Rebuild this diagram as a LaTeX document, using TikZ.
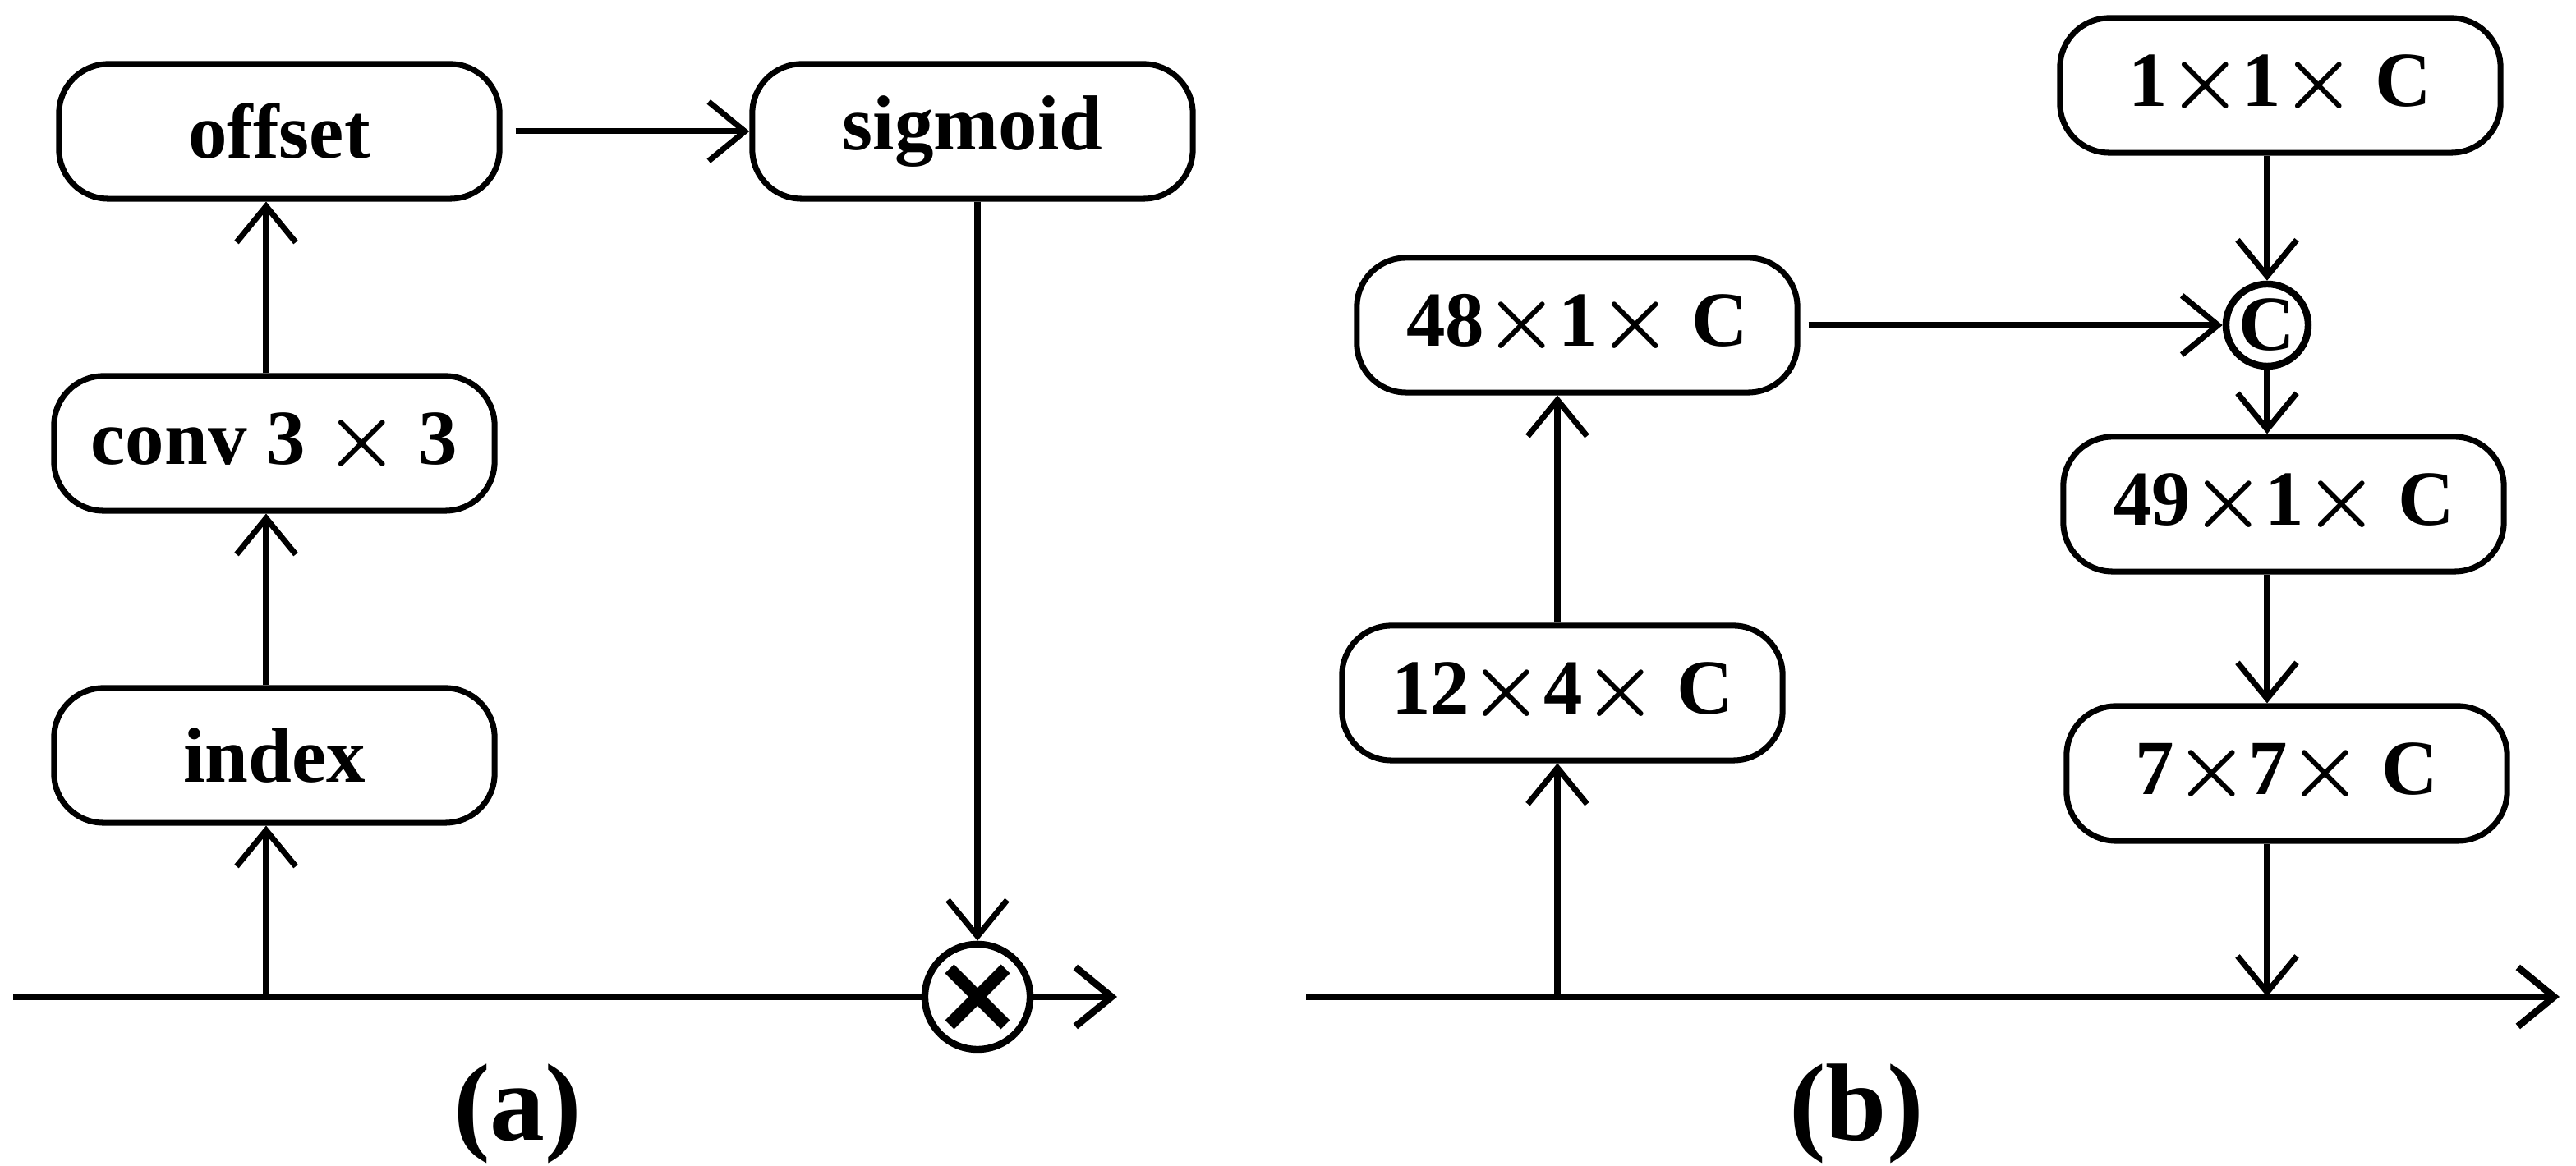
\documentclass[tikz,border=0pt]{standalone}
\usepackage{amsmath}
\usepackage{fontspec}
\setmainfont{Liberation Serif}
\usetikzlibrary{arrows.meta,calc}
\newcommand{\tms}{$\boldsymbol{\times}$}
\tikzset{
  blk/.style={draw, rounded corners=3mm, line width=1pt, minimum width=2.68cm, minimum height=0.82cm, font=\fontsize{13.5}{16}\selectfont\bfseries},
  arr/.style={line width=1pt, -{Straight Barb[length=2.2mm,width=3.6mm]}},
  ln/.style={line width=1.2pt}
}
\begin{document}
\begin{tikzpicture}[x=0.01cm, y=-0.01cm]
\useasboundingbox (0,0) rectangle (1568,710);
% (a)
\node [blk] (offset) at (170,80) {offset};
\node [blk] (conv) at (167,270) {conv 3 \tms\ 3};
\node [blk] (index) at (167,460) {index};
\node [blk] (sigmoid) at (592,80) {sigmoid};
\node [circle, draw, line width=1.2pt, minimum size=0.64cm, inner sep=0pt] (mul) at (595,607) {};
\draw [line width=2.2pt] ($(mul)+(-17,-17)$) -- ($(mul)+(17,17)$) ($(mul)+(-17,17)$) -- ($(mul)+(17,-17)$);
\coordinate (a0) at (8,607);
\coordinate (a1) at (680,607);
\coordinate (ai) at (162,607);
\draw [ln] (a0) -- (mul.west);
\draw [ln, -{Straight Barb[length=2.2mm,width=3.6mm]}] (mul.east) -- (a1);
\draw [arr] (ai) -- (ai|-index.south);
\draw [arr] (index.north-|ai) -- (conv.south-|ai);
\draw [arr] (conv.north-|ai) -- (offset.south-|ai);
\draw [arr] ([xshift=0.08cm]offset.east) -- (sigmoid.west);
\draw [arr] (sigmoid.south-|mul) -- (mul.north);
\node [font=\fontsize{19}{22}\selectfont\bfseries] (la) at (315,678) {(a)};
% (b)
\node [blk] (c11) at (1388,52) {1\tms1\tms\ C};
\node [circle, draw, line width=1.2pt, minimum size=0.5cm, inner sep=0pt, font=\fontsize{13.5}{16}\selectfont\bfseries] (cat) at (1380,198) {C};
\node [blk] (c48) at (960,198) {48\tms1\tms\ C};
\node [blk] (c49) at (1390,307) {49\tms1\tms\ C};
\node [blk] (c77) at (1392,471) {7\tms7\tms\ C};
\node [blk] (c124) at (951,422) {12\tms4\tms\ C};
\coordinate (b0) at (795,607);
\coordinate (b1) at (1558,607);
\coordinate (bi) at (948,607);
\coordinate (bo) at (1380,607);
\draw [ln, -{Straight Barb[length=2.2mm,width=3.6mm]}] (b0) -- (b1);
\draw [arr] (bi) -- (bi|-c124.south);
\draw [arr] (c124.north-|bi) -- (c48.south-|bi);
\draw [arr] ([xshift=0.05cm]c48.east) -- (cat.west);
\draw [arr] (c11.south-|cat) -- (cat.north);
\draw [arr] (cat.south) -- (c49.north-|cat);
\draw [arr] (c49.south-|cat) -- (c77.north-|cat);
\draw [arr] (c77.south-|bo) -- (bo);
\node [font=\fontsize{19}{22}\selectfont\bfseries] (lb) at (1130,678) {(b)};
\end{tikzpicture}
\end{document}
